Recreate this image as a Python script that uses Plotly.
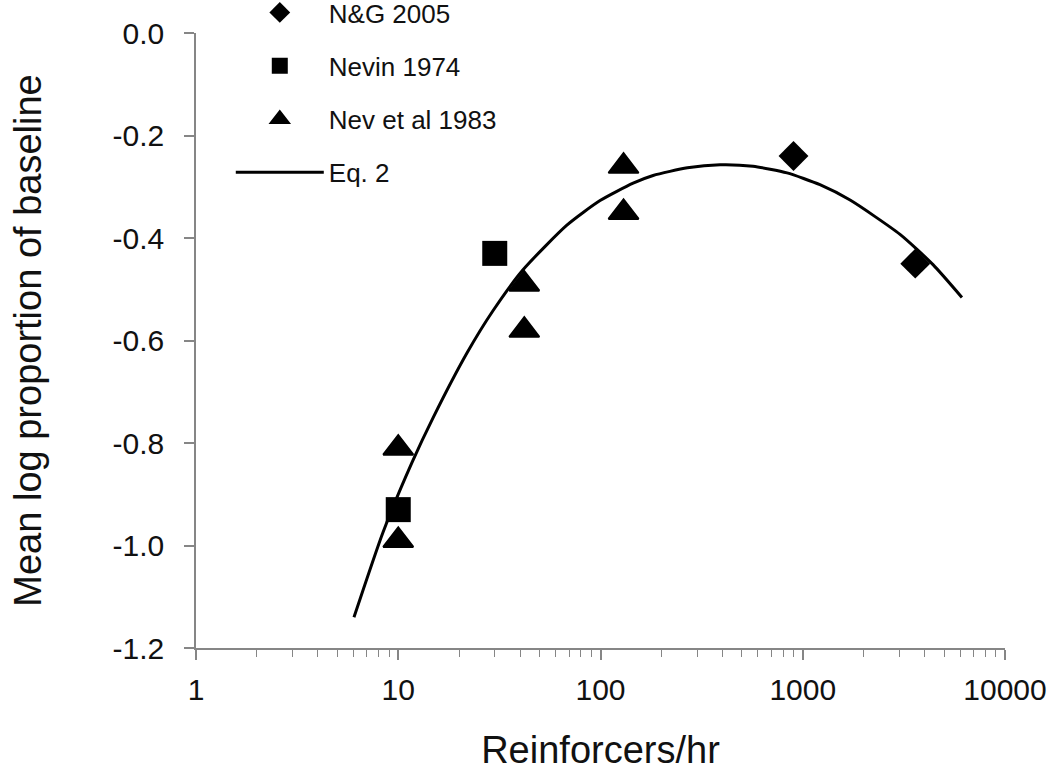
import plotly.graph_objects as go

# N&G 2005
ng_x = [900, 3600]
ng_y = [-0.24, -0.45]
# Nevin 1974
nevin_x = [10, 30]
nevin_y = [-0.93, -0.43]
# Nevin et al 1983
nev83_x = [10, 10, 42, 42, 130, 130]
nev83_y = [-0.81, -0.99, -0.49, -0.58, -0.26, -0.35]
# Eq. 2 curve
eq_x = [6.04, 8.41, 11.7, 14.9, 21.9, 29.4, 41.4, 68.2, 99.5, 145, 182, 269, 390,
        568, 836, 1216, 1714, 3027, 4406, 6124]
eq_y = [-1.140, -0.974, -0.838, -0.750, -0.624, -0.542, -0.462, -0.375, -0.327, -0.293,
        -0.278, -0.263, -0.257, -0.260, -0.273, -0.296, -0.326, -0.393, -0.452, -0.516]

x_tickvals = [1, 10, 100, 1000, 10000]
x_ticktext = ["1", "10", "100", "1000", "10000"]
x_minor_vals = [m * d for d in (1, 10, 100, 1000) for m in range(2, 10)]
y_tickvals = [0.0, -0.2, -0.4, -0.6, -0.8, -1.0, -1.2]
y_ticktext = ["0.0", "-0.2", "-0.4", "-0.6", "-0.8", "-1.0", "-1.2"]

FONT = "Liberation Sans, Arial, sans-serif"
TXT = "#111111"
AX = "#868686"

fig = go.Figure()
fig.add_trace(go.Scatter(x=ng_x, y=ng_y, mode="markers", name="N&G 2005", legendgroup="a",
                         marker=dict(symbol="diamond", size=23, color="black")))
fig.add_trace(go.Scatter(x=nevin_x, y=nevin_y, mode="markers", name="Nevin 1974", legendgroup="b",
                         marker=dict(symbol="square", size=25, color="black")))
fig.add_trace(go.Scatter(x=nev83_x, y=nev83_y, mode="markers", name="Nev et al 1983", legendgroup="c",
                         marker=dict(symbol="triangle-up", size=26, color="black",
                                     line=dict(color="black", width=2))))
fig.add_trace(go.Scatter(x=eq_x, y=eq_y, mode="lines", name="Eq. 2", legendgroup="d",
                         line=dict(color="black", width=3, shape="spline", smoothing=0.6)))

fig.update_layout(
    width=1050, height=775,
    margin=dict(l=196, r=45, t=33, b=127, autoexpand=False),
    paper_bgcolor="white", plot_bgcolor="white",
    font=dict(family=FONT, color=TXT),
    showlegend=True,
    legend=dict(x=0.043, y=1.0715, xanchor="left", yanchor="top",
                font=dict(size=26, family=FONT, color=TXT),
                traceorder="grouped", tracegroupgap=16.5, itemwidth=88,
                bgcolor="rgba(0,0,0,0)"),
    xaxis=dict(type="log", range=[0, 4], tickvals=x_tickvals, ticktext=x_ticktext,
               automargin=False,
               showgrid=False, zeroline=False, showline=True, linecolor=AX, linewidth=1.5,
               ticks="outside", ticklen=10, tickcolor=AX, tickwidth=1.5,
               tickfont=dict(size=30, family=FONT, color=TXT), ticklabelstandoff=4,
               minor=dict(tickvals=x_minor_vals, ticks="outside", ticklen=7, tickcolor=AX,
                          tickwidth=1.2, showgrid=False),
               title=dict(text="Reinforcers/hr", font=dict(size=38, family=FONT, color=TXT),
                          standoff=32)),
    yaxis=dict(range=[-1.2, 0], tickvals=y_tickvals, ticktext=y_ticktext,
               automargin=False,
               showgrid=False, zeroline=False, showline=True, linecolor=AX, linewidth=1.5,
               ticks="outside", ticklen=10, tickcolor=AX, tickwidth=1.5,
               tickfont=dict(size=30, family=FONT, color=TXT), ticklabelstandoff=14,
               title=dict(text="Mean log proportion of baseline",
                          font=dict(size=38, family=FONT, color=TXT), standoff=59)),
)

fig.write_html("out.html", config={"displayModeBar": False},
               post_script="document.body.style.margin='0px';")
